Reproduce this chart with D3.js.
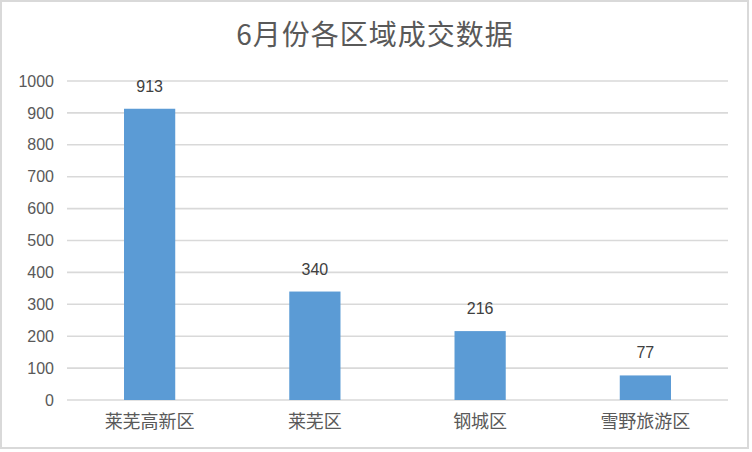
<!DOCTYPE html>
<html><head><meta charset="utf-8">
<script src="https://cdn.jsdelivr.net/npm/d3@7/dist/d3.min.js"></script>
<style>html,body{margin:0;padding:0;background:#fff;overflow:hidden}</style>
</head><body>
<svg id="c" width="752" height="452"></svg>
<script>
const title = "6月份各区域成交数据";
const categories = ["莱芜高新区", "莱芜区", "钢城区", "雪野旅游区"];
const values = [913, 340, 216, 77];
const yTicks = [0, 100, 200, 300, 400, 500, 600, 700, 800, 900, 1000];

(function () {
const svg = d3.select("#c");
const pL = 67, pR = 728, pT = 81, pB = 400;
const fontLat = "'Liberation Sans', Arial, sans-serif";
const fontCJK = "'Noto Sans CJK SC', 'Liberation Sans', sans-serif";

svg.append("rect").attr("x", 1).attr("y", 1).attr("width", 747).attr("height", 447)
  .attr("fill", "#fff").attr("stroke", "#d9d9d9").attr("stroke-width", 2);

const x = d3.scaleBand().domain(categories).range([pL, pR])
  .paddingInner(0.69).paddingOuter(0.345);
const y = d3.scaleLinear().domain([0, 1000]).range([pB, pT]);

// gridlines
svg.append("g").selectAll("line").data(yTicks).join("line")
  .attr("x1", pL).attr("x2", pR)
  .attr("y1", d => y(d)).attr("y2", d => y(d))
  .attr("stroke", "#d9d9d9").attr("stroke-width", 1.6);

// y axis labels
const yAxis = d3.axisLeft(y).tickValues(yTicks).tickSize(0).tickPadding(13).tickFormat(d3.format("d"));
const ga = svg.append("g").attr("transform", `translate(${pL},0)`).call(yAxis);
ga.select(".domain").remove();
ga.selectAll("text").attr("font-family", fontLat).attr("font-size", 16).attr("fill", "#595959");

// bars
svg.append("g").selectAll("rect").data(values).join("rect")
  .attr("x", (d, i) => x(categories[i]))
  .attr("width", x.bandwidth())
  .attr("y", d => y(d))
  .attr("height", d => y(0) - y(d))
  .attr("fill", "#5b9bd5");

// value labels
svg.append("g").selectAll("text").data(values).join("text")
  .attr("x", (d, i) => x(categories[i]) + x.bandwidth() / 2)
  .attr("y", d => y(d) - 17)
  .attr("text-anchor", "middle")
  .attr("font-family", fontLat).attr("font-size", 16).attr("fill", "#404040")
  .text(d => d);

// x axis labels
const xAxis = d3.axisBottom(x).tickSize(0).tickPadding(15);
const gx = svg.append("g").attr("transform", `translate(0,${pB})`).call(xAxis);
gx.select(".domain").remove();
gx.selectAll("text").attr("font-family", fontCJK).attr("font-size", 18).attr("fill", "#595959");

// title
svg.append("text").attr("x", 375).attr("y", 45).attr("text-anchor", "middle")
  .attr("font-family", fontCJK).attr("font-size", 28).attr("fill", "#595959")
  .attr("letter-spacing", 1)
  .text(title);
})();
</script>
</body></html>
